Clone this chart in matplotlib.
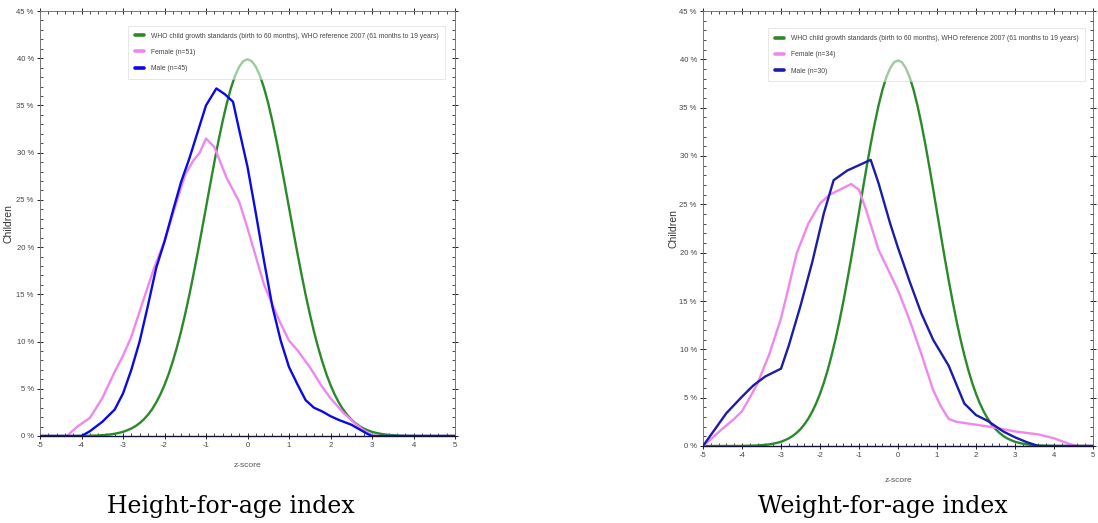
import matplotlib.pyplot as plt
from matplotlib.ticker import MultipleLocator, FuncFormatter

# WHO reference curve (%), read at z = 0, 0.1, ..., 5 and mirrored
who_half = [39.89, 39.70, 39.10, 38.14, 36.83, 35.21, 33.32, 31.23, 28.97, 26.61,
            24.20, 21.79, 19.42, 17.14, 14.97, 12.95, 11.09, 9.41, 7.90, 6.56,
            5.40, 4.40, 3.55, 2.83, 2.24, 1.75, 1.36, 1.04, 0.79, 0.60,
            0.44, 0.33, 0.24, 0.17, 0.12, 0.09, 0.06, 0.04, 0.03, 0.02,
            0.01, 0, 0, 0, 0, 0, 0, 0, 0, 0, 0]
who_z_half = [i * 0.1 for i in range(51)]
who_z = [-z for z in who_z_half[::-1]] + who_z_half[1:]
who_y = who_half[::-1] + who_half[1:]

# Height-for-age
haz_f_z = [-5, -4.35, -4.1, -3.8, -3.5, -3.2, -3.0, -2.8, -2.5, -2.25, -2.0, -1.75, -1.5,
           -1.3, -1.15, -1.0, -0.8, -0.5, -0.2, 0.0, 0.2, 0.4, 0.6, 0.8, 1.0, 1.2,
           1.5, 1.8, 2.0, 2.3, 2.6, 2.8, 3.0, 3.1, 5]
haz_f_y = [0, 0, 1.0, 1.9, 4.0, 6.8, 8.5, 10.5, 14.5, 17.8, 20.6, 24.2, 27.7,
           29.2, 30.0, 31.5, 30.6, 27.3, 24.8, 22.0, 19.0, 16.0, 13.9, 11.9, 10.1, 9.1,
           7.3, 5.2, 4.0, 2.5, 1.3, 0.6, 0.1, 0, 0]
haz_m_z = [-5, -4.0, -3.8, -3.5, -3.2, -3.0, -2.8, -2.6, -2.4, -2.2, -2.0, -1.8, -1.6,
           -1.4, -1.2, -1.0, -0.75, -0.55, -0.35, -0.2, 0.0, 0.2, 0.4, 0.6, 0.8, 1.0,
           1.2, 1.4, 1.6, 1.8, 2.0, 2.2, 2.5, 2.7, 2.9, 3.0, 5]
haz_m_y = [0, 0, 0.5, 1.5, 2.8, 4.5, 7.0, 10.0, 13.8, 17.8, 20.6, 23.8, 26.9,
           29.4, 32.2, 35.0, 36.8, 36.2, 35.4, 32.4, 28.5, 23.6, 18.5, 13.7, 10.1, 7.3,
           5.5, 3.8, 3.0, 2.6, 2.1, 1.7, 1.2, 0.7, 0.2, 0, 0]

# Weight-for-age
waz_f_z = [-5, -4.8, -4.5, -4.2, -4.0, -3.8, -3.6, -3.3, -3.0, -2.8, -2.6, -2.3, -2.0,
           -1.75, -1.5, -1.2, -1.0, -0.8, -0.5, -0.2, 0.0, 0.3, 0.6, 0.9, 1.1, 1.3,
           1.5, 2.0, 2.5, 3.0, 3.6, 4.0, 4.4, 4.6, 5]
waz_f_y = [0, 0.7, 1.8, 2.8, 3.6, 5.0, 6.5, 9.5, 13.2, 16.5, 19.9, 23.0, 25.1,
           26.0, 26.5, 27.1, 26.5, 24.2, 20.3, 17.8, 16.1, 13.0, 9.5, 5.8, 4.1, 2.8,
           2.5, 2.2, 1.9, 1.5, 1.2, 0.8, 0.2, 0, 0]
waz_m_z = [-5, -4.7, -4.4, -4.0, -3.7, -3.4, -3.0, -2.8, -2.5, -2.2, -1.9, -1.65, -1.3,
           -0.7, -0.5, -0.2, 0.0, 0.3, 0.6, 0.9, 1.3, 1.7, 2.0, 2.3, 2.7, 3.0, 3.3, 3.6, 5]
waz_m_y = [0, 1.7, 3.4, 5.1, 6.3, 7.2, 8.0, 10.4, 14.5, 19.0, 24.1, 27.5, 28.5,
           29.6, 27.2, 23.0, 20.5, 17.0, 13.7, 11.0, 8.3, 4.4, 3.2, 2.6, 1.5, 0.9, 0.4, 0, 0]

who_label = 'WHO child growth standards (birth to 60 months), WHO reference 2007 (61 months to 19 years)'

plt.rcParams['font.family'] = ['Liberation Sans', 'DejaVu Sans']
plt.rcParams['axes.unicode_minus'] = False

fig = plt.figure(figsize=(10.98, 5.23), dpi=100)


def panel(rect, fz, fy, mz, my, nf, nm, male_color, caption, cap_x, legend_box, xlab_pad):
    ax = fig.add_axes(rect)
    kw = dict(lw=1.7, solid_joinstyle='round', solid_capstyle='round')
    ax.plot(who_z, who_y, color='#2a8a2a', label=who_label, zorder=2, **kw)
    ax.plot(fz, fy, color='#ee88ee', label='Female (n=%d)' % nf, zorder=3, **kw)
    ax.plot(mz, my, color=male_color, label='Male (n=%d)' % nm, zorder=4, **kw)
    ax.set_xlim(-5, 5)
    ax.set_ylim(0, 45)
    ax.xaxis.set_major_locator(MultipleLocator(1))
    ax.xaxis.set_minor_locator(MultipleLocator(0.2))
    ax.yaxis.set_major_locator(MultipleLocator(5))
    ax.yaxis.set_minor_locator(MultipleLocator(1))
    ax.yaxis.set_major_formatter(FuncFormatter(lambda v, p: '%d %%' % v))
    ax.tick_params(which='major', direction='inout', length=5, width=0.6,
                   labelsize=5.5, labelcolor='#444444', top=True, right=True, pad=2)
    ax.tick_params(which='minor', direction='in', length=2, width=0.5, top=True, right=True)
    for s in ax.spines.values():
        s.set_color('#777777')
        s.set_linewidth(0.7)
    ax.spines['bottom'].set_color('#111133')
    ax.spines['bottom'].set_linewidth(1.0)
    ax.set_xlabel('z-score', fontsize=6, color='#555555', labelpad=xlab_pad)
    ax.set_ylabel('Children', fontsize=7.5, color='#333333')
    ax.yaxis.set_label_coords(-0.064, 0.5)
    leg = ax.legend(loc='upper right', bbox_to_anchor=legend_box, fontsize=4.9,
                    handlelength=1.3, handletextpad=1.0, borderpad=1.0,
                    labelspacing=1.35, framealpha=0.55, fancybox=False,
                    edgecolor='#cccccc', borderaxespad=0)
    leg.get_frame().set_linewidth(0.6)
    for ln in leg.get_lines():
        ln.set_linewidth(2.6)
    for t in leg.get_texts():
        t.set_color('#444444')
    fig.text(cap_x, 0.032, caption, ha='center', va='center',
             fontsize=17, family='DejaVu Serif')
    return ax


panel([40 / 1098, 87 / 523, 415 / 1098, 425 / 523], haz_f_z, haz_f_y, haz_m_z, haz_m_y,
      51, 45, '#0a0ae6', 'Height-for-age index', 231 / 1098, (0.976, 0.965), 9)
panel([703 / 1098, 77 / 523, 390 / 1098, 435 / 523], waz_f_z, waz_f_y, waz_m_z, waz_m_y,
      34, 30, '#1c1ca8', 'Weight-for-age index', 883 / 1098, (0.98, 0.96), 13)

fig.savefig('out.png', dpi=100)
